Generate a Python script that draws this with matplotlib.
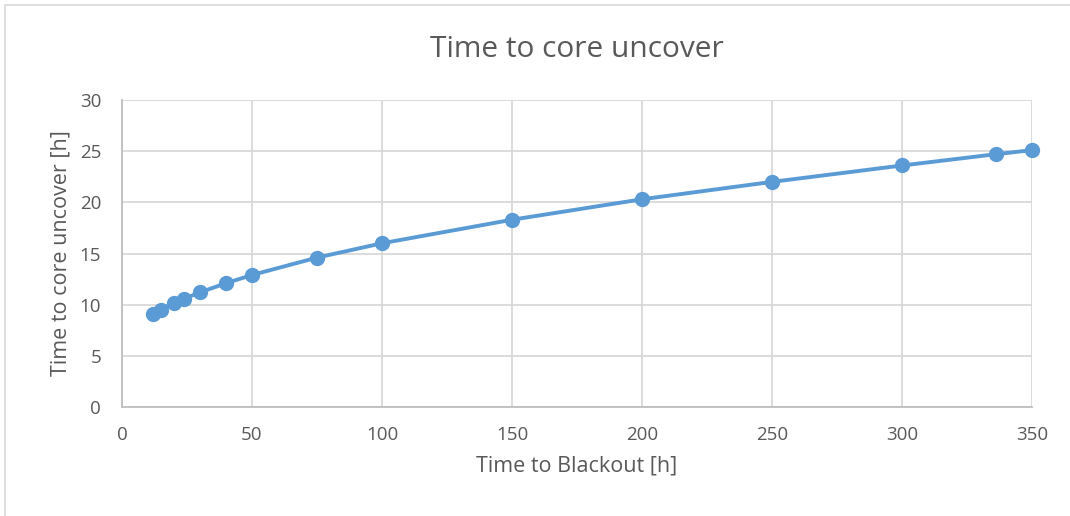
import matplotlib.pyplot as plt
from matplotlib.patches import Rectangle

# 停电时长 [h] 与堆芯裸露时间 [h]
blackout_h = [12, 15, 20, 24, 30, 40, 50, 75, 100, 150, 200, 250, 300, 336, 350]
uncover_h = [9.1, 9.5, 10.2, 10.6, 11.2, 12.1, 12.9, 14.6, 16.0, 18.3, 20.3, 22.0, 23.6, 24.7, 25.1]

x_ticks = [0, 50, 100, 150, 200, 250, 300, 350]
y_ticks = [0, 5, 10, 15, 20, 25, 30]

plt.rcParams['font.family'] = ['Open Sans', 'DejaVu Sans']
text_color = '#595959'
grid_color = '#d9d9d9'
line_color = '#5b9bd5'

fig = plt.figure(figsize=(10.7, 5.16), dpi=100)
# 外框
fig.patches.append(Rectangle((0.005, -0.01), 1.2, 1.0, transform=fig.transFigure,
                             fill=False, edgecolor='#d9d9d9', linewidth=1.2))

ax = fig.add_axes([0.114, 0.2112, 0.8505, 0.595])
ax.plot(blackout_h, uncover_h, color=line_color, linewidth=2.8,
        marker='o', markersize=10, zorder=3, clip_on=False)

ax.set_xlim(0, 350)
ax.set_ylim(0, 30)
ax.set_xticks(x_ticks)
ax.set_yticks(y_ticks)
ax.grid(True, color=grid_color, linewidth=1.3)
ax.set_axisbelow(True)

for side in ['top', 'right']:
    ax.spines[side].set_visible(False)
for side in ['left', 'bottom']:
    ax.spines[side].set_color('#bfbfbf')
    ax.spines[side].set_linewidth(1.3)

ax.tick_params(length=0, labelsize=13.5, colors=text_color)
ax.tick_params(axis='x', pad=14)
ax.tick_params(axis='y', pad=15)
ax.set_xlabel('Time to Blackout [h]', fontsize=15.5, color=text_color, labelpad=8)
ax.set_ylabel('Time to core uncover [h]', fontsize=15.5, color=text_color, labelpad=6)
ax.set_title('Time to core uncover', fontsize=21.5, color=text_color, pad=31)

fig.savefig('out.png', dpi=100)
